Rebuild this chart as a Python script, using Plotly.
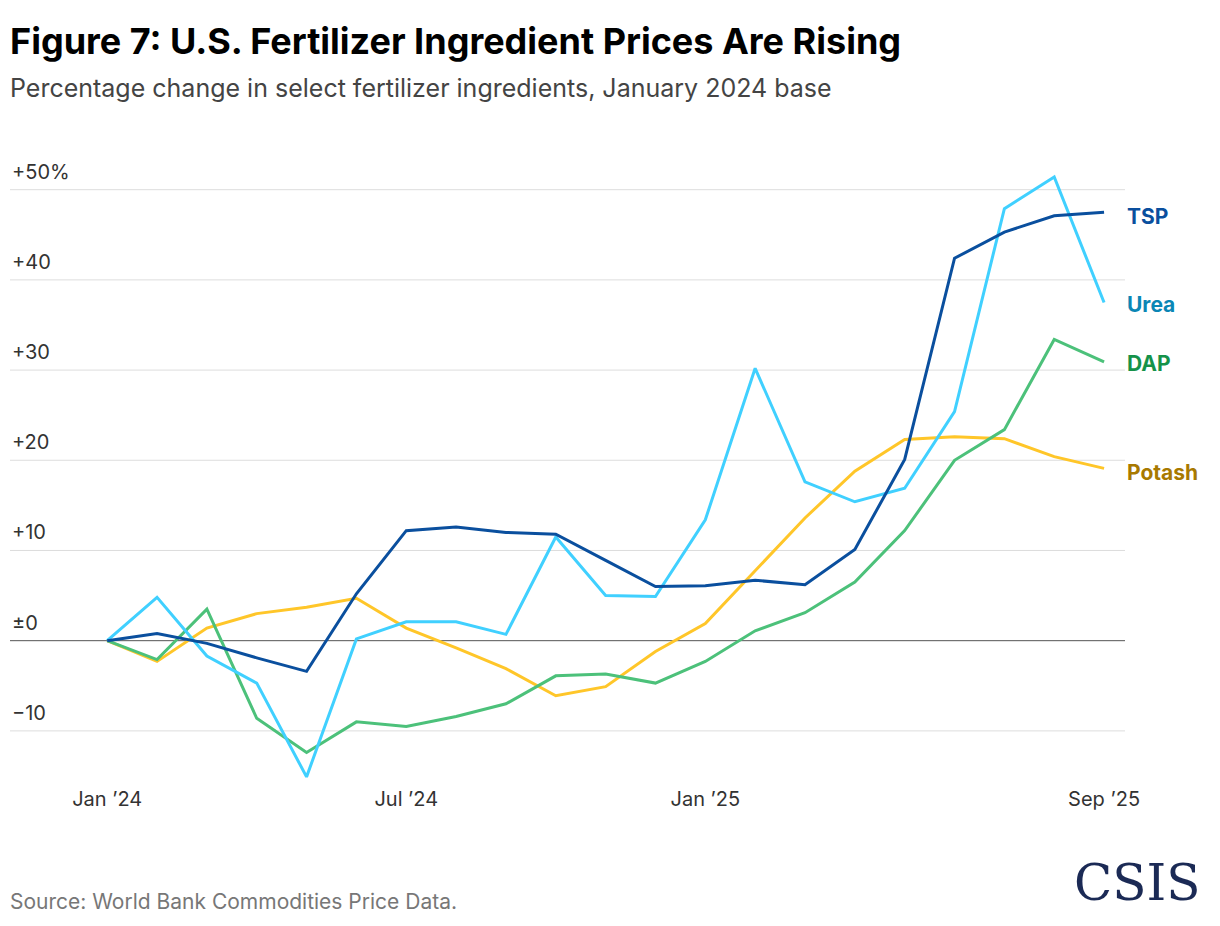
import plotly.graph_objects as go

months = list(range(21))
tick_vals = [0, 6, 12, 20]
tick_text = ["Jan ’24", "Jul ’24", "Jan ’25", "Sep ’25"]
tsp = [0, 0.8, -0.3, -1.9, -3.4, 5.2, 12.2, 12.6, 12.0, 11.8, 8.9, 6.0, 6.1, 6.7, 6.2, 10.1, 20.1, 42.4, 45.3, 47.1, 47.5]
urea = [0, 4.8, -1.7, -4.7, -15.1, 0.2, 2.1, 2.1, 0.7, 11.5, 5.0, 4.9, 13.4, 30.2, 17.6, 15.4, 16.9, 25.4, 47.9, 51.4, 37.5]
dap = [0, -2.1, 3.5, -8.6, -12.4, -9.0, -9.5, -8.4, -7.0, -3.9, -3.7, -4.7, -2.3, 1.1, 3.1, 6.5, 12.2, 20.0, 23.4, 33.4, 30.9]
potash = [0, -2.3, 1.4, 3.0, 3.7, 4.7, 1.4, -0.8, -3.1, -6.1, -5.1, -1.2, 1.9, 7.8, 13.6, 18.8, 22.3, 22.6, 22.4, 20.4, 19.1]
y_ticks = [50, 40, 30, 20, 10, 0, -10]
y_tick_text = ["+50%", "+40", "+30", "+20", "+10", "±0", "−10"]

series = [
    ("Potash", potash, "#FFC629", "#A87900", 18.7),
    ("DAP", dap, "#4CC17A", "#15924A", 30.7),
    ("Urea", urea, "#40D0FF", "#0A86B5", 37.3),
    ("TSP", tsp, "#0A4F9E", "#0A4F9E", 47.0),
]
font = "Inter, Liberation Sans, sans-serif"
fig = go.Figure()
for name, vals, col, lcol, ly in series:
    fig.add_trace(go.Scatter(x=months, y=vals, mode="lines", line=dict(color=col, width=3), name=name, showlegend=False))
    fig.add_annotation(x=1.0, y=ly, xref="paper", yref="y", text=f"<b>{name}</b>", showarrow=False,
                       xanchor="left", font=dict(size=21, color=lcol, family=font))

for v, t in zip(y_ticks, y_tick_text):
    fig.add_shape(type="line", xref="paper", yref="y", x0=0, x1=1, y0=v, y1=v,
                  line=dict(color="#555555" if v == 0 else "#DDDDDD", width=1), layer="below")
    fig.add_annotation(xref="paper", yref="y", x=0, y=v, yshift=4, text=t, showarrow=False,
                       xanchor="left", yanchor="bottom", font=dict(size=20, color="#333333", family=font))

fig.add_annotation(xref="paper", yref="paper", x=-0.002, y=1.134, xanchor="left", yanchor="bottom", showarrow=False,
                   text="<b>Figure 7: U.S. Fertilizer Ingredient Prices Are Rising</b>", font=dict(size=36, color="#000", family=font))
fig.add_annotation(xref="paper", yref="paper", x=-0.002, y=1.071, xanchor="left", yanchor="bottom", showarrow=False,
                   text="Percentage change in select fertilizer ingredients, January 2024 base", font=dict(size=25, color="#444", family=font))
fig.add_annotation(xref="paper", yref="paper", x=-0.002, y=-0.184, xanchor="left", yanchor="middle", showarrow=False,
                   text="Source: World Bank Commodities Price Data.", font=dict(size=21, color="#777", family=font))
fig.add_annotation(xref="paper", yref="paper", x=1.07, y=-0.155, xanchor="right", yanchor="middle", showarrow=False,
                   text="CSIS", font=dict(size=50, color="#1B2A55", family="DejaVu Serif, Liberation Serif, serif"))

fig.update_layout(
    width=1220, height=926, plot_bgcolor="white", paper_bgcolor="white",
    margin=dict(l=2, r=103, t=142, b=149),
    xaxis=dict(range=[-1.95, 20.42], tickvals=tick_vals, ticktext=tick_text, showgrid=False, zeroline=False,
               showline=False, ticks="", tickfont=dict(size=20, color="#333", family=font)),
    yaxis=dict(range=[-16, 54.4], showgrid=False, zeroline=False, showticklabels=False),
)
fig.write_html("out.html")
